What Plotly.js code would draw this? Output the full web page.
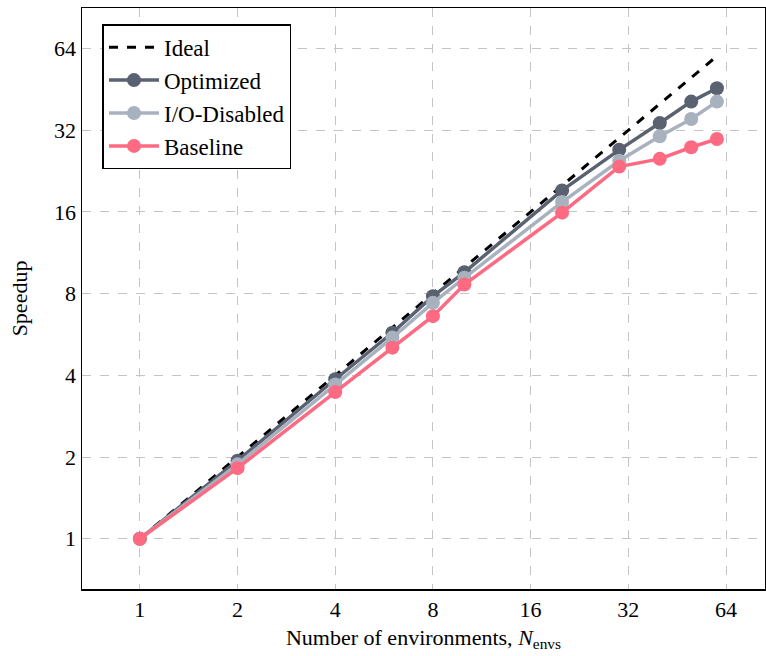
<!DOCTYPE html>
<html>
<head>
<meta charset="utf-8">
<script src="https://cdn.plot.ly/plotly-3.0.1.min.js"></script>
<style>html,body{margin:0;padding:0;background:#fff}#chart{width:766px;height:656px}</style>
</head>
<body>
<div id="chart"></div>
<script>
const envs = [1, 2, 4, 6, 8, 10, 20, 30, 40, 50, 60];
const idealX = [1, 60];
const idealY = [1, 60];
const optimized = [1, 1.94, 3.87, 5.74, 7.83, 9.59, 19.2, 27.1, 34.0, 40.8, 45.7];
const ioDisabled = [1, 1.88, 3.7, 5.51, 7.40, 9.15, 17.4, 24.7, 30.4, 35.2, 40.8];
const baseline = [1, 1.82, 3.47, 5.06, 6.61, 8.64, 15.9, 23.5, 25.1, 27.7, 29.7];
const tickVals = [1, 2, 4, 8, 16, 32, 64];
const tickText = ["1", "2", "4", "8", "16", "32", "64"];

const font = "Liberation Serif, Times New Roman, serif";
function series(name, y, color) {
  return {x: envs, y: y, name: name, type: "scatter", mode: "lines+markers",
    line: {color: color, width: 3.5}, marker: {color: color, size: 14}};
}
const data = [
  {x: idealX, y: idealY, name: "Ideal", type: "scatter", mode: "lines",
   line: {color: "#000", width: 3, dash: "dash"}},
  series("Optimized", optimized, "#5a6170"),
  series("I/O-Disabled", ioDisabled, "#a8b2bf"),
  series("Baseline", baseline, "#fd6a82")
];
const axisCommon = {
  type: "log", tickvals: tickVals, ticktext: tickText,
  showline: true, linecolor: "#000", linewidth: 1.5, mirror: true,
  showgrid: true, gridcolor: "#c4c4c4", griddash: "dash", gridwidth: 1,
  ticks: "", zeroline: false,
  tickfont: {family: font, size: 22, color: "#000"}
};
const layout = {
  width: 766, height: 656,
  margin: {l: 82, r: 1, t: 8, b: 67},
  paper_bgcolor: "#fff", plot_bgcolor: "#fff",
  font: {family: font, color: "#000"},
  showlegend: true,
  legend: {x: 0.03, y: 0.972, xanchor: "left", yanchor: "top",
    bordercolor: "#000", borderwidth: 1.5, bgcolor: "#fff",
    font: {family: font, size: 23, color: "#000"}, tracegroupgap: 0, itemwidth: 50},
  xaxis: Object.assign({}, axisCommon, {
    range: [Math.log10(2 ** -0.592), Math.log10(2 ** 6.399)],
    title: {text: "Number of environments, <i>N</i><sub>envs</sub>", font: {family: font, size: 22, color: "#000"}, standoff: 8}
  }),
  yaxis: Object.assign({}, axisCommon, {
    range: [Math.log10(2 ** -0.615), Math.log10(2 ** 6.496)],
    title: {text: "Speedup", font: {family: font, size: 22, color: "#000"}, standoff: 20}
  })
};
Plotly.newPlot("chart", data, layout, {displayModeBar: false, staticPlot: true});
</script>
</body>
</html>
